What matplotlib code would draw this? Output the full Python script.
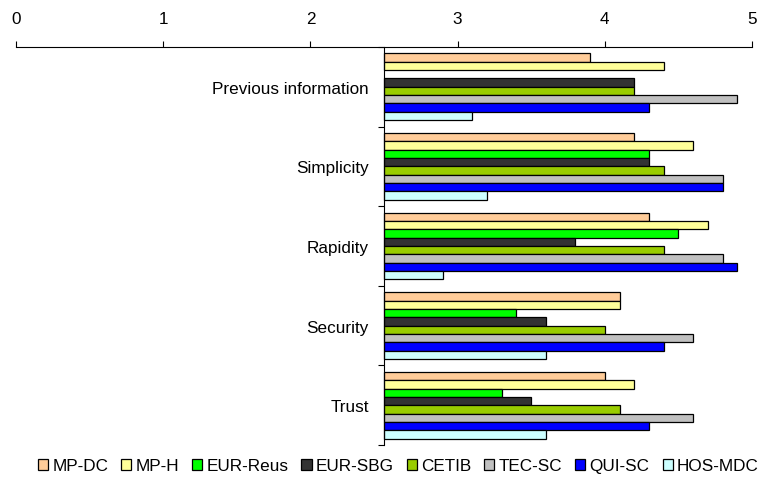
import numpy as np
import matplotlib
matplotlib.use("Agg")
import matplotlib.pyplot as plt
from matplotlib.patches import Patch

plt.rcParams['font.family'] = ['Liberation Sans', 'DejaVu Sans']

# survey scores per aspect (top to bottom)
categories = ["Previous information", "Simplicity", "Rapidity", "Security", "Trust"]
series = ["MP-DC", "MP-H", "EUR-Reus", "EUR-SBG", "CETIB", "TEC-SC", "QUI-SC", "HOS-MDC"]
colors = ["#FFCC99", "#FFFF99", "#00FF00", "#333333", "#99CC00", "#C0C0C0", "#0000FF", "#CCFFFF"]

mp_dc    = [3.9, 4.2, 4.3, 4.1, 4.0]
mp_h     = [4.4, 4.6, 4.7, 4.1, 4.2]
eur_reus = [np.nan, 4.3, 4.5, 3.4, 3.3]   # no answer for previous information
eur_sbg  = [4.2, 4.3, 3.8, 3.6, 3.5]
cetib    = [4.2, 4.4, 4.4, 4.0, 4.1]
tec_sc   = [4.9, 4.8, 4.8, 4.6, 4.6]
qui_sc   = [4.3, 4.8, 4.9, 4.4, 4.3]
hos_mdc  = [3.1, 3.2, 2.9, 3.6, 3.6]

values = [mp_dc, mp_h, eur_reus, eur_sbg, cetib, tec_sc, qui_sc, hos_mdc]

base = 2.5
fs = 12.3
fig = plt.figure(figsize=(7.66, 4.89), dpi=100)
ax = fig.add_axes([16/766, 1 - 446/489, 736/766, 398/489])

y = np.arange(len(categories))
h = 0.1047
for i, (vals, col) in enumerate(zip(values, colors)):
    vals = np.array(vals, dtype=float)
    ax.barh(y + (i - 3.5) * h, vals - base, left=base, height=h,
            color=col, edgecolor="black", linewidth=0.9)

ax.set_xlim(0, 5)
ax.set_ylim(len(categories) - 0.5, -0.5)

# value axis on top
ax.xaxis.tick_top()
ax.set_xticks(range(6))
ax.tick_params(axis='x', direction='out', length=4, width=0.8, pad=11, labelsize=fs)

# category axis sits at 2.5
ax.spines['left'].set_position(('data', base))
ax.spines['right'].set_visible(False)
ax.spines['bottom'].set_visible(False)
ax.spines['top'].set_linewidth(0.8)
ax.spines['left'].set_linewidth(0.8)
ax.set_yticks(y)
ax.set_yticklabels(categories)
ax.set_yticks(np.arange(-0.5, len(categories)), minor=True)
ax.tick_params(axis='y', which='major', length=0, pad=11, labelsize=fs)
ax.tick_params(axis='y', which='minor', length=4, width=0.8)

handles = [Patch(facecolor=c, edgecolor="black", linewidth=0.9) for c in colors]
fig.legend(handles, series, loc='center', bbox_to_anchor=(0.52, 1 - 467/489),
           ncol=8, frameon=False, fontsize=fs, handlelength=0.6, handleheight=0.6,
           handletextpad=0.25, columnspacing=0.75)

fig.savefig("out.png", dpi=100)
